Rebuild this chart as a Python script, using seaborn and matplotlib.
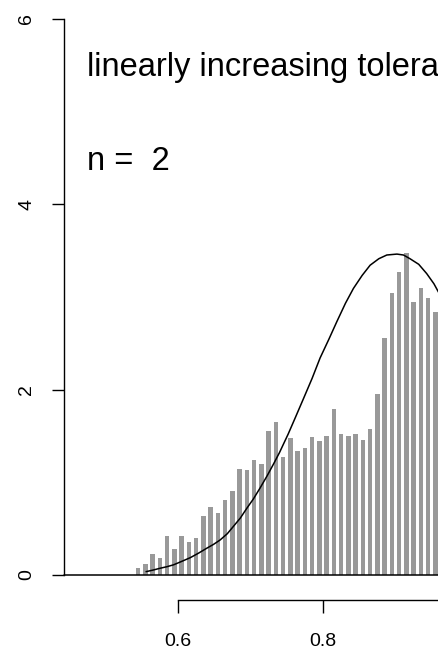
import numpy as np
import pandas as pd
import matplotlib
matplotlib.use("Agg")
import matplotlib.pyplot as plt
import seaborn as sns

# histogram (bin width 0.01, first bin starts at 0.54)
bin_start = 0.54
bin_width = 0.01
density = [0.08, 0.122, 0.226, 0.187, 0.417, 0.284, 0.424, 0.352, 0.399, 0.636,
           0.733, 0.672, 0.81, 0.91, 1.143, 1.13, 1.237, 1.20, 1.556, 1.646,
           1.275, 1.48, 1.34, 1.37, 1.49, 1.45, 1.50, 1.79, 1.52, 1.50,
           1.52, 1.46, 1.57, 1.95, 2.56, 3.04, 3.27, 3.47, 2.94, 3.09,
           2.99, 2.84]

# fitted density curve
curve_x = [0.556, 0.566, 0.575, 0.585, 0.594, 0.6055, 0.617, 0.628, 0.640, 0.649,
           0.658, 0.668, 0.676, 0.686, 0.695, 0.704, 0.713, 0.723, 0.732, 0.740,
           0.752, 0.762, 0.773, 0.785, 0.796, 0.808, 0.819, 0.831, 0.842, 0.854,
           0.865, 0.877, 0.888, 0.902, 0.911, 0.920, 0.932, 0.943, 0.953, 0.960]
curve_y = [0.036, 0.054, 0.072, 0.09, 0.11, 0.148, 0.187, 0.234, 0.29, 0.33,
           0.377, 0.445, 0.52, 0.614, 0.72, 0.82, 0.935, 1.07, 1.20, 1.32,
           1.52, 1.70, 1.90, 2.12, 2.34, 2.54, 2.73, 2.93, 3.09, 3.23,
           3.34, 3.41, 3.45, 3.46, 3.45, 3.41, 3.35, 3.25, 3.14, 3.04]

y_ticks = [0, 2, 4, 6]
x_ticks = [0.6, 0.8, 1.0]
title = "linearly increasing tolerance"
n_label = "n =  2"

sns.set_style("ticks", {"axes.edgecolor": "black", "text.color": "black",
                        "xtick.color": "black", "ytick.color": "black"})
plt.rcParams["font.family"] = ["Liberation Sans", "DejaVu Sans"]

centers = bin_start + bin_width * (np.arange(len(density)) + 0.5)
hist = pd.DataFrame({"x": centers, "w": density})

fig = plt.figure(figsize=(4.39, 6.61), dpi=100)
ax = fig.add_axes([64 / 439, 86 / 661, 375 / 439, 556.5 / 661])

sns.histplot(data=hist, x="x", weights="w", binwidth=bin_width,
             binrange=(bin_start, bin_start + bin_width * len(density)),
             shrink=0.62, color="#999999", edgecolor="none", alpha=1, ax=ax)
sns.lineplot(x=curve_x, y=curve_y, color="black", lw=1.1, sort=False, ax=ax)
ax.axhline(0, color="black", lw=1.1, clip_on=False)

ax.set_xlabel("")
ax.set_ylabel("")

ax.set_yticks(y_ticks)
ax.set_yticklabels([str(t) for t in y_ticks])
ax.set_xticks(x_ticks)
ax.set_xticklabels([f"{t:.1f}" for t in x_ticks])
ax.tick_params(axis="y", labelrotation=90, length=8.6, width=1.0, pad=12,
               labelsize=14, colors="black")
ax.tick_params(axis="x", length=9, width=1.0, pad=15, labelsize=14, colors="black")
for lab in ax.get_yticklabels():
    lab.set_va("center")

ax.set_xlim(0.4428, 0.96)
ax.set_ylim(0, 6)

ax.text(0.4745, 5.38, title, fontsize=23.5, va="baseline", ha="left",
        color="black", clip_on=True)
ax.text(0.4745, 4.37, n_label, fontsize=23.5, va="baseline", ha="left", color="black")

ax.spines["top"].set_visible(False)
ax.spines["right"].set_visible(False)
ax.spines["left"].set_bounds(0, 6)
ax.spines["left"].set_linewidth(1.0)
ax.spines["bottom"].set_position(("outward", 18))
ax.spines["bottom"].set_bounds(0.6, 1.0)
ax.spines["bottom"].set_linewidth(1.0)

fig.savefig("out.png", dpi=100)
